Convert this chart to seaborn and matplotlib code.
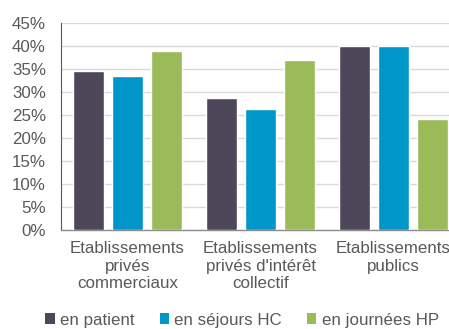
import matplotlib
matplotlib.use("Agg")
import matplotlib.pyplot as plt
import seaborn as sns
import pandas as pd
from matplotlib.patches import Patch
from matplotlib.ticker import FuncFormatter

categories = [
    "Etablissements\nprivés\ncommerciaux",
    "Etablissements\nprivés d'intérêt\ncollectif",
    "Etablissements\npublics",
]
series = ["en patient", "en séjours HC", "en journées HP"]
en_patient = [34.6, 28.8, 40.1]
en_sejours_hc = [33.5, 26.3, 40.1]
en_journees_hp = [38.9, 36.9, 24.1]
colors = ["#4e4659", "#0096c9", "#9bbb59"]

df = pd.DataFrame({
    "cat": categories * 3,
    "serie": [series[0]] * 3 + [series[1]] * 3 + [series[2]] * 3,
    "val": en_patient + en_sejours_hc + en_journees_hp,
})

sns.set_theme(style="white")
plt.rcParams["font.family"] = ["Liberation Sans", "DejaVu Sans"]

FS = 12.2
fig = plt.figure(figsize=(4.49, 3.29), dpi=100)
ax = fig.add_axes([61 / 449, 99 / 329, 399 / 449, 207 / 329])

sns.barplot(data=df, x="cat", y="val", hue="serie", order=categories,
            hue_order=series, palette=colors, width=0.88, gap=0.2,
            saturation=1, ax=ax, legend=False, errorbar=None, zorder=3)

ax.set_xlim(-0.5, 2.5)
ax.set_ylim(0, 45)
ax.set_yticks(range(0, 50, 5))
ax.yaxis.set_major_formatter(FuncFormatter(lambda v, p: f"{int(v)}%"))
ax.grid(axis="y", color="#d9d9d9", linewidth=1, zorder=0)
ax.set_axisbelow(True)
ax.set_xlabel("")
ax.set_ylabel("")
for s in ["top", "right"]:
    ax.spines[s].set_visible(False)
ax.spines["left"].set_color("#595959")
ax.spines["left"].set_linewidth(0.8)
ax.spines["bottom"].set_color("#8c8c8c")
ax.spines["bottom"].set_linewidth(1)
ax.tick_params(axis="y", length=0, pad=10.8, labelsize=FS, labelcolor="#595959")
ax.tick_params(axis="x", length=0, pad=8, labelsize=FS, labelcolor="#595959")

handles = [Patch(facecolor=c, edgecolor="none") for c in colors]
fig.legend(handles, series, loc="center", bbox_to_anchor=(242 / 449, 9 / 329),
           ncol=3, frameon=False, fontsize=FS, labelcolor="#595959",
           handlelength=0.55, handleheight=0.55, handletextpad=0.3,
           columnspacing=1.5, borderpad=0)

fig.savefig("out.png", dpi=100)
